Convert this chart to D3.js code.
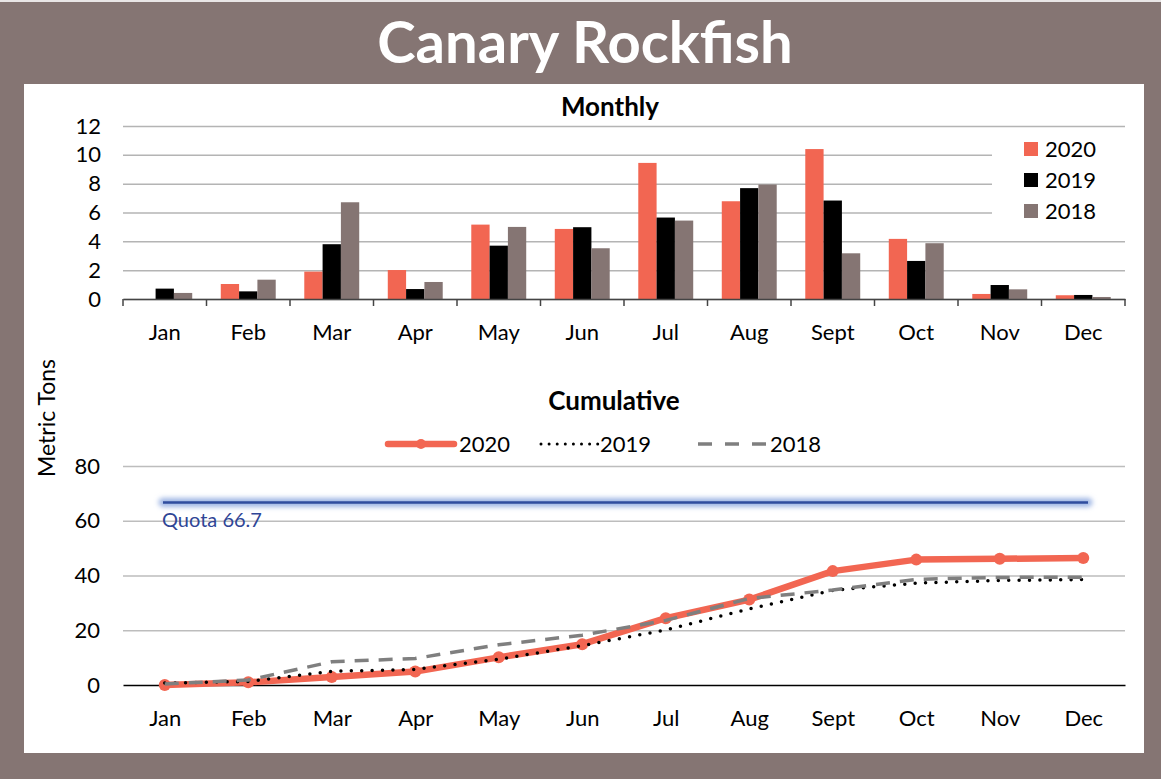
<!DOCTYPE html>
<html>
<head>
<meta charset="utf-8">
<script src="https://cdn.jsdelivr.net/npm/d3@7"></script>
<style>
  body { margin: 0; background: #857573; }
  svg { display: block; font-family: Lato, "Open Sans", sans-serif; }
</style>
</head>
<body>
<svg id="chart"></svg>
<script>
const months = ['Jan','Feb','Mar','Apr','May','Jun','Jul','Aug','Sept','Oct','Nov','Dec'];
const years = ['2020','2019','2018'];

// monthly landings, metric tons
const monthly2020 = [0, 1.04, 1.9, 2.01, 5.16, 4.86, 9.44, 6.78, 10.4, 4.17, 0.35, 0.26];
const monthly2019 = [0.72, 0.53, 3.8, 0.69, 3.7, 4.98, 5.65, 7.69, 6.83, 2.64, 0.97, 0.28];
const monthly2018 = [0.42, 1.34, 6.71, 1.18, 5.0, 3.52, 5.44, 7.94, 3.17, 3.87, 0.67, 0.14];

// cumulative landings, metric tons
const cumulative2020 = [0, 1.0, 2.9, 4.9, 10.1, 14.9, 24.4, 31.2, 41.6, 45.8, 46.1, 46.4];
const cumulative2019 = [0.7, 1.3, 5.0, 5.7, 9.4, 14.4, 20.1, 27.8, 34.6, 37.2, 38.2, 38.5];
const cumulative2018 = [0.4, 1.8, 8.5, 9.7, 14.7, 18.2, 23.6, 31.6, 34.7, 38.6, 39.3, 39.4];

const monthlyTicks = [0, 2, 4, 6, 8, 10, 12];
const cumulativeTicks = [0, 20, 40, 60, 80];
const quota = 66.7;

const colors = { '2020': '#f26652', '2019': '#000000', '2018': '#857573' };
const font = 'Lato, "Open Sans", sans-serif';
const fs = '22px';

const W = 1161, H = 779;
const svg = d3.select('#chart').attr('width', W).attr('height', H);

svg.append('rect').attr('width', W).attr('height', H).attr('fill', '#857573');
svg.append('rect').attr('width', W).attr('height', 2).attr('fill', '#e9e6e6');
svg.append('rect').attr('x', 24).attr('y', 84).attr('width', 1120).attr('height', 669).attr('fill', '#fff');

svg.append('text')
      .attr('x', 585).attr('y', 63)
      .attr('text-anchor', 'middle')
      .style('font-size', '58px').style('font-weight', 'bold')
      .attr('fill', '#fff')
      .text('Canary Rockfish');

svg.append('text')
      .attr('transform', 'translate(55, 418) rotate(-90)')
      .attr('text-anchor', 'middle')
      .style('font-size', '23px')
      .text('Metric Tons');

// ---------- monthly bars ----------
const left = 123, right = 1125;

const x0 = d3.scaleBand().domain(months).range([left, right]);
const x1 = d3.scaleBand().domain(years).range([0, x0.step()]).paddingOuter(0.78);
const yM = d3.scaleLinear().domain([0, 12]).range([299, 126]);

const monthly = months.map((m, i) => ({
      month: m,
      values: [
            { year: '2020', v: monthly2020[i] },
            { year: '2019', v: monthly2019[i] },
            { year: '2018', v: monthly2018[i] }
      ]
}));

const gM = svg.append('g');

const yaxisM = gM.append('g')
      .attr('transform', `translate(${left}, 0)`)
      .call(d3.axisLeft(yM).tickValues(monthlyTicks).tickSize(-(right - left)).tickPadding(22))
      .attr('font-family', font).attr('font-size', fs);
yaxisM.select('.domain').remove();
yaxisM.selectAll('line').attr('stroke', '#b4b4b4').attr('stroke-width', 1.5);
yaxisM.selectAll('text').attr('fill', '#000');

gM.selectAll('g.month')
      .data(monthly)
      .join('g')
      .attr('class', 'month')
      .attr('transform', d => `translate(${x0(d.month)}, 0)`)
      .selectAll('rect')
      .data(d => d.values)
      .join('rect')
      .attr('x', d => x1(d.year))
      .attr('y', d => yM(d.v))
      .attr('width', x1.bandwidth())
      .attr('height', d => yM(0) - yM(d.v))
      .attr('fill', d => colors[d.year]);

const xaxisM = gM.append('g')
      .attr('transform', `translate(0, ${yM(0)})`)
      .call(d3.axisBottom(x0).tickSize(0))
      .attr('font-family', font).attr('font-size', fs);
xaxisM.select('.domain').attr('stroke', '#444').attr('stroke-width', 1.5);
xaxisM.selectAll('text').attr('y', 41).attr('dy', null).attr('fill', '#000');

// ticks between the categories
xaxisM.selectAll('line.sep')
      .data(d3.range(months.length + 1))
      .join('line')
      .attr('class', 'sep')
      .attr('x1', i => left + i * x0.step()).attr('x2', i => left + i * x0.step())
      .attr('y1', 0).attr('y2', 7)
      .attr('stroke', '#444').attr('stroke-width', 1.5);

gM.append('text')
      .attr('x', 610).attr('y', 116)
      .attr('text-anchor', 'middle')
      .style('font-size', '26px').style('font-weight', 'bold')
      .text('Monthly');

const legM = gM.append('g');
legM.append('rect').attr('x', 992).attr('y', 133).attr('width', 133).attr('height', 94).attr('fill', '#fff');
years.forEach((y, i) => {
      legM.append('rect')
            .attr('x', 1024).attr('y', 142 + i * 31)
            .attr('width', 14).attr('height', 14)
            .attr('fill', colors[y]);
      legM.append('text')
            .attr('x', 1045).attr('y', 157 + i * 31)
            .style('font-size', fs)
            .text(y);
});

// ---------- cumulative lines ----------
const xC = d3.scalePoint().domain(months).range([left, right]).padding(0.5);
const yC = d3.scaleLinear().domain([0, 80]).range([685, 466]);

const gC = svg.append('g');

const yaxisC = gC.append('g')
      .attr('transform', `translate(${left}, 0)`)
      .call(d3.axisLeft(yC).tickValues(cumulativeTicks).tickSize(-(right - left)).tickPadding(23))
      .attr('font-family', font).attr('font-size', fs);
yaxisC.select('.domain').remove();
yaxisC.selectAll('line').attr('stroke', '#bdbdbd').attr('stroke-width', 1.5);
yaxisC.selectAll('line').filter(d => d === 0).remove();
yaxisC.selectAll('text').attr('fill', '#000');

const xaxisC = gC.append('g')
      .attr('transform', `translate(0, ${yC(0)})`)
      .call(d3.axisBottom(xC).tickSize(0))
      .attr('font-family', font).attr('font-size', fs);
xaxisC.select('.domain').attr('stroke', '#000').attr('stroke-width', 1.5);
xaxisC.selectAll('text').attr('y', 41).attr('dy', null).attr('fill', '#000');

gC.append('text')
      .attr('x', 614).attr('y', 410)
      .attr('text-anchor', 'middle')
      .style('font-size', '26px').style('font-weight', 'bold')
      .text('Cumulative');

// quota line with soft glow
const defs = svg.append('defs');
defs.append('filter').attr('id', 'glow')
      .attr('filterUnits', 'userSpaceOnUse')
      .attr('x', 140).attr('y', 480).attr('width', 980).attr('height', 45)
      .append('feGaussianBlur').attr('stdDeviation', 2.5);

gC.append('line')
      .attr('x1', 163).attr('x2', 1088)
      .attr('y1', yC(quota)).attr('y2', yC(quota))
      .attr('stroke', '#9fb6e4').attr('stroke-width', 9).attr('stroke-linecap', 'round')
      .attr('filter', 'url(#glow)');
gC.append('line')
      .attr('x1', 163).attr('x2', 1088)
      .attr('y1', yC(quota)).attr('y2', yC(quota))
      .attr('stroke', '#2f4d9e').attr('stroke-width', 2.5);
gC.append('text')
      .attr('x', 162).attr('y', 527)
      .style('font-size', '20px')
      .attr('fill', '#2f4596')
      .text(`Quota ${quota}`);

const line = d3.line().x((d, i) => xC(months[i])).y(d => yC(d));

gC.append('path')
      .datum(cumulative2020)
      .attr('d', line)
      .attr('fill', 'none')
      .attr('stroke', colors['2020']).attr('stroke-width', 6.5)
      .attr('stroke-linejoin', 'round');
gC.selectAll('circle.p2020')
      .data(cumulative2020)
      .join('circle')
      .attr('class', 'p2020')
      .attr('cx', (d, i) => xC(months[i]))
      .attr('cy', d => yC(d))
      .attr('r', 6)
      .attr('fill', colors['2020']);

gC.append('path')
      .datum(cumulative2019)
      .attr('d', line)
      .attr('fill', 'none')
      .attr('stroke', '#000').attr('stroke-width', 3.5)
      .attr('stroke-linecap', 'round')
      .attr('stroke-dasharray', '0 10.4');

gC.append('path')
      .datum(cumulative2018)
      .attr('d', line)
      .attr('fill', 'none')
      .attr('stroke', '#7f7f7f').attr('stroke-width', 3.5)
      .attr('stroke-dasharray', '14 10');

// legend
const legC = gC.append('g').attr('transform', 'translate(0, 444)');
legC.append('line').attr('x1', 388).attr('x2', 454).attr('stroke', colors['2020']).attr('stroke-width', 6.5).attr('stroke-linecap', 'round');
legC.append('circle').attr('cx', 421).attr('r', 5).attr('fill', colors['2020']);
legC.append('text').attr('x', 459).attr('y', 8).style('font-size', fs).text('2020');
legC.append('line').attr('x1', 541).attr('x2', 598).attr('stroke', '#000').attr('stroke-width', 3)
      .attr('stroke-linecap', 'round').attr('stroke-dasharray', '0 8.1');
legC.append('text').attr('x', 600).attr('y', 8).style('font-size', fs).text('2019');
legC.append('line').attr('x1', 698).attr('x2', 766).attr('stroke', '#7f7f7f').attr('stroke-width', 3.5)
      .attr('stroke-dasharray', '14 13');
legC.append('text').attr('x', 770).attr('y', 8).style('font-size', fs).text('2018');
</script>
</body>
</html>
